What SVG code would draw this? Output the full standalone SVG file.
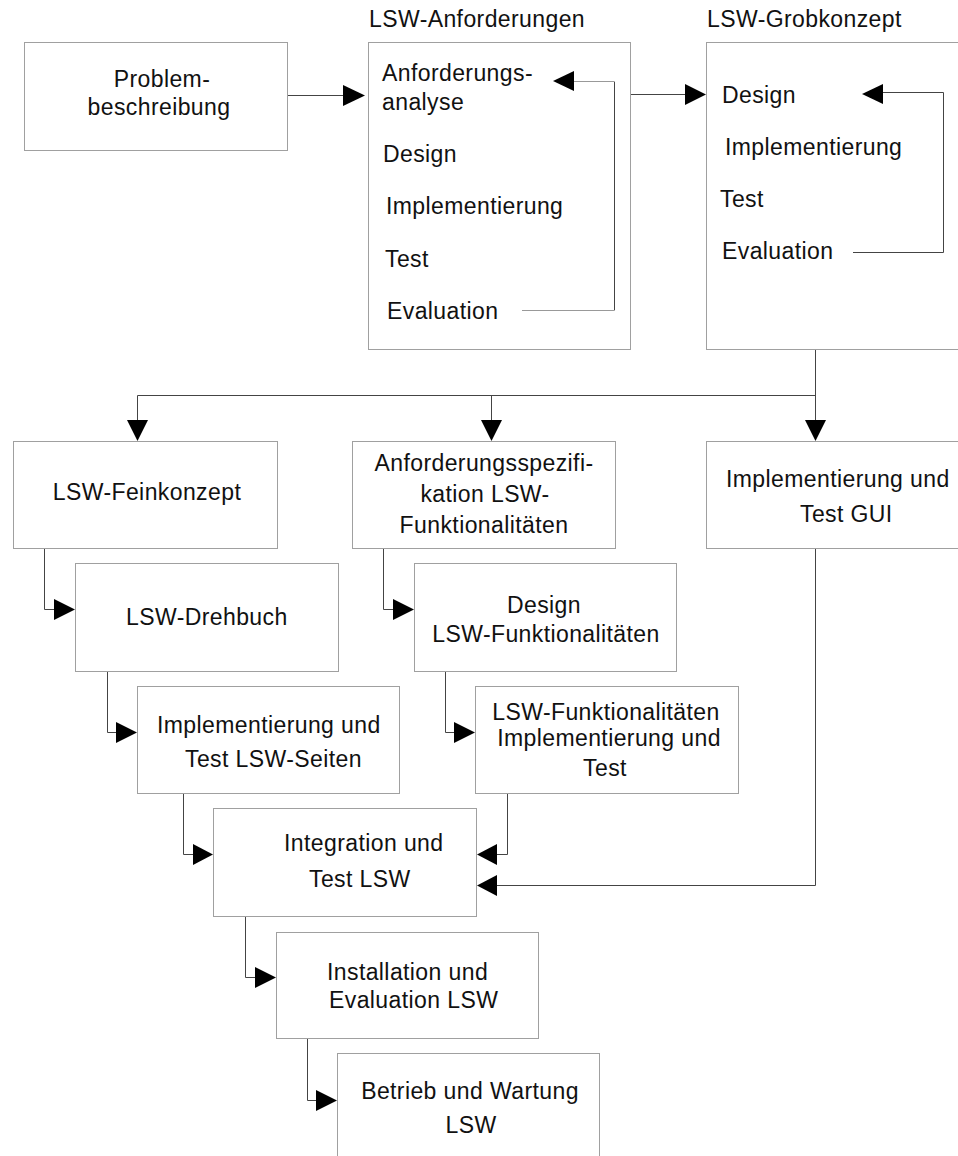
<svg xmlns="http://www.w3.org/2000/svg" width="958" height="1156" viewBox="0 0 958 1156">
  <style>
    text { font-family: "Liberation Sans", Arial, sans-serif; font-size: 23px; letter-spacing: 0.4px; fill: #111; }
    .c { text-anchor: middle; }
    .box { fill: #fff; stroke: #a0a0a0; stroke-width: 1; }
    .ln { fill: none; stroke: #444; stroke-width: 1; }
    .lt { fill: none; stroke: #999; stroke-width: 1; }
    .ah { fill: #000; }
  </style>

  <rect width="958" height="1156" fill="#fff"/>

  <!-- Phase nodes -->
  <g id="problembeschreibung">
    <rect class="box" x="24.5" y="42.5" width="263" height="108"/>
    <text class="c" x="162" y="87">Problem-</text>
    <text class="c" x="159" y="115">beschreibung</text>
  </g>

  <g id="lsw-anforderungen">
    <text x="369" y="27">LSW-Anforderungen</text>
    <rect class="box" x="368.5" y="42.5" width="262" height="307"/>
    <text x="382" y="81">Anforderungs-</text>
    <text x="382" y="110">analyse</text>
    <text x="383" y="162">Design</text>
    <text x="386" y="214">Implementierung</text>
    <text x="385" y="267">Test</text>
    <text x="387" y="319">Evaluation</text>
  </g>

  <g id="lsw-grobkonzept">
    <text x="707" y="27">LSW-Grobkonzept</text>
    <rect class="box" x="706.5" y="42.5" width="262" height="307"/>
    <text x="722" y="103">Design</text>
    <text x="725" y="155">Implementierung</text>
    <text x="720" y="207">Test</text>
    <text x="722" y="259">Evaluation</text>
  </g>

  <g id="lsw-feinkonzept">
    <rect class="box" x="13.5" y="441.5" width="264" height="107"/>
    <text class="c" x="147" y="500">LSW-Feinkonzept</text>
  </g>

  <g id="anforderungsspezifikation">
    <rect class="box" x="352.5" y="441.5" width="263" height="107"/>
    <text class="c" x="484" y="471">Anforderungsspezifi-</text>
    <text class="c" x="485" y="502">kation LSW-</text>
    <text class="c" x="484" y="533">Funktionalitäten</text>
  </g>

  <g id="gui">
    <rect class="box" x="706.5" y="441.5" width="262" height="107"/>
    <text x="726" y="487">Implementierung und</text>
    <text x="800" y="522">Test GUI</text>
  </g>

  <g id="lsw-drehbuch">
    <rect class="box" x="75.5" y="563.5" width="263" height="108"/>
    <text x="126" y="625">LSW-Drehbuch</text>
  </g>

  <g id="design-funktionalitaeten">
    <rect class="box" x="414.5" y="563.5" width="262" height="108"/>
    <text class="c" x="544" y="613">Design</text>
    <text class="c" x="546" y="642">LSW-Funktionalitäten</text>
  </g>

  <g id="lsw-seiten">
    <rect class="box" x="137.5" y="686.5" width="262" height="107"/>
    <text x="157" y="733">Implementierung und</text>
    <text x="185" y="767">Test LSW-Seiten</text>
  </g>

  <g id="funktionalitaeten-impl">
    <rect class="box" x="475.5" y="686.5" width="263" height="107"/>
    <text class="c" x="606" y="720">LSW-Funktionalitäten</text>
    <text class="c" x="609" y="746">Implementierung und</text>
    <text class="c" x="605" y="776">Test</text>
  </g>

  <g id="integration">
    <rect class="box" x="213.5" y="808.5" width="263" height="108"/>
    <text x="284" y="851">Integration und</text>
    <text x="309" y="887">Test LSW</text>
  </g>

  <g id="installation">
    <rect class="box" x="276.5" y="932.5" width="262" height="106"/>
    <text x="327" y="980">Installation und</text>
    <text x="329" y="1008">Evaluation LSW</text>
  </g>

  <g id="betrieb">
    <rect class="box" x="337.5" y="1053.5" width="262" height="120"/>
    <text class="c" x="470" y="1099">Betrieb und Wartung</text>
    <text class="c" x="471" y="1133">LSW</text>
  </g>

  <!-- Connectors -->
  <g id="connectors">
    <!-- Problembeschreibung -> Anforderungen -->
    <path class="ln" d="M288 95.5H344"/>
    <polygon class="ah" points="343,85 365,95.5 343,106"/>

    <!-- Anforderungen feedback loop -->
    <path class="lt" d="M522 310.5H614.5V81.5H574"/>
    <path class="ln" d="M614.5 310V82"/>
    <polygon class="ah" points="574,71 553,81 574,91"/>

    <!-- Anforderungen -> Grobkonzept -->
    <path class="ln" d="M631 94.5H686"/>
    <polygon class="ah" points="685,84 706,94.5 685,105"/>

    <!-- Grobkonzept feedback loop -->
    <path class="ln" d="M853 252.5H943.5V92.5H883"/>
    <polygon class="ah" points="883,84 862,94 883,104"/>

    <!-- Grobkonzept fan-out -->
    <path class="ln" d="M815.5 350V421"/>
    <path class="ln" d="M137.5 421V395.5H815.5"/>
    <path class="ln" d="M491.5 395.5V421"/>
    <polygon class="ah" points="127,420 148,420 137.5,441"/>
    <polygon class="ah" points="481,420 502,420 491.5,441"/>
    <polygon class="ah" points="805,420 826,420 815.5,441"/>

    <!-- Feinkonzept -> Drehbuch -->
    <path class="ln" d="M44.5 549V609.5H55"/>
    <polygon class="ah" points="54,599 75,609.5 54,620"/>

    <!-- Spezifikation -> Design -->
    <path class="ln" d="M383.5 549V609.5H394"/>
    <polygon class="ah" points="393,599 414,609.5 393,620"/>

    <!-- Drehbuch -> LSW-Seiten -->
    <path class="ln" d="M107.5 672V732.5H117"/>
    <polygon class="ah" points="116,722 137,732.5 116,743"/>

    <!-- Design -> Funktionalitaeten Implementierung -->
    <path class="ln" d="M445.5 672V732.5H455"/>
    <polygon class="ah" points="454,722 475,732.5 454,743"/>

    <!-- LSW-Seiten -> Integration -->
    <path class="ln" d="M183.5 794V854.5H194"/>
    <polygon class="ah" points="193,844 213,854.5 193,865"/>

    <!-- Funktionalitaeten Implementierung -> Integration -->
    <path class="ln" d="M507.5 794V854.5H497"/>
    <polygon class="ah" points="497,844 477,854.5 497,865"/>

    <!-- GUI -> Integration -->
    <path class="ln" d="M815.5 549V885.5H497"/>
    <polygon class="ah" points="497,875 477,885.5 497,896"/>

    <!-- Integration -> Installation -->
    <path class="ln" d="M245.5 917V977.5H256"/>
    <polygon class="ah" points="255,967 276,977.5 255,988"/>

    <!-- Installation -> Betrieb -->
    <path class="ln" d="M307.5 1039V1100.5H317"/>
    <polygon class="ah" points="316,1090 337,1100.5 316,1111"/>
  </g>
</svg>
